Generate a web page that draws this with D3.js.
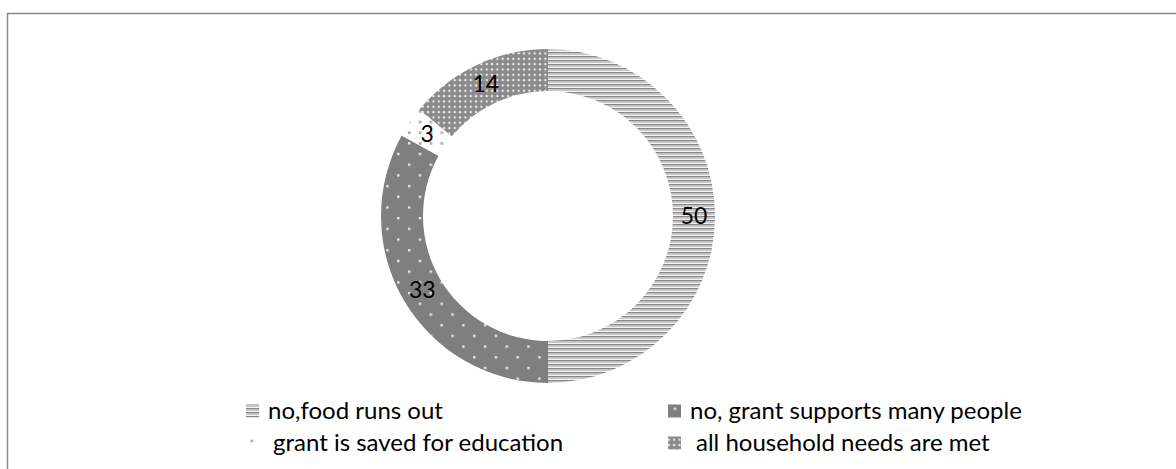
<!DOCTYPE html>
<html>
<head>
<meta charset="utf-8">
<script src="https://cdn.jsdelivr.net/npm/d3@7"></script>
<style>
  html, body { margin: 0; padding: 0; background: #fff; }
  svg { display: block; }
  text { font-family: Lato, "Open Sans", sans-serif; fill: #000; }
</style>
</head>
<body>
<svg id="chart" width="1176" height="469"></svg>
<script>
// Survey answers and their shares (%)
const categories = [
  "no,food runs out",
  "no, grant supports many people",
  "grant is saved for education",
  "all household needs are met"
];
const values = [50, 33, 3, 14];
const patternIds = ["pStripes", "pDarkDots", "pSparseDots", "pDenseDots"];

const W = 1176, H = 469;
const svg = d3.select("#chart");
const defs = svg.append("defs");

// Horizontal stripes
{
  const p = defs.append("pattern").attr("id", "pStripes")
    .attr("patternUnits", "userSpaceOnUse").attr("width", 4).attr("height", 4);
  p.append("rect").attr("width", 4).attr("height", 4).attr("fill", "#f4f4f4");
  p.append("rect").attr("y", 0).attr("width", 4).attr("height", 1.5).attr("fill", "#878787");
  p.append("rect").attr("y", 1.5).attr("width", 4).attr("height", 1.5).attr("fill", "#c8c8c8");
}
// Dark grey with sparse light dots
{
  const w = 21.7, h = 21.4;
  const p = defs.append("pattern").attr("id", "pDarkDots")
    .attr("patternUnits", "userSpaceOnUse").attr("width", w).attr("height", h);
  p.append("rect").attr("width", w).attr("height", h).attr("fill", "#7f7f7f");
  [[1, 1], [w / 2 + 1, h / 2 + 1]].forEach(([x, y]) =>
    p.append("rect").attr("x", x).attr("y", y).attr("width", 2.4).attr("height", 2.4).attr("fill", "#e8e8e8"));
}
// White with sparse grey dots
{
  const w = 21.7, h = 21.4;
  const p = defs.append("pattern").attr("id", "pSparseDots")
    .attr("patternUnits", "userSpaceOnUse").attr("width", w).attr("height", h);
  p.append("rect").attr("width", w).attr("height", h).attr("fill", "#ffffff");
  [[1, 1], [w / 2 + 1, h / 2 + 1], [w / 2 + 1, 1], [1, h / 2 + 1]].forEach(([x, y]) =>
    p.append("rect").attr("x", x).attr("y", y).attr("width", 2.6).attr("height", 2.6).attr("fill", "#a8a8a8"));
}
// Mid grey with dense light dots
{
  const s = 5.33;
  const p = defs.append("pattern").attr("id", "pDenseDots")
    .attr("patternUnits", "userSpaceOnUse").attr("width", s).attr("height", s);
  p.append("rect").attr("width", s).attr("height", s).attr("fill", "#8a8a8a");
  p.append("rect").attr("x", 1.6).attr("y", 1.6).attr("width", 2.1).attr("height", 2.1).attr("fill", "#ececec");
}

// Chart frame
svg.append("rect")
  .attr("x", 7.5).attr("y", 13.5)
  .attr("width", W + 20).attr("height", H + 20)
  .attr("fill", "none").attr("stroke", "#8a8a8a").attr("stroke-width", 1.5);

// Donut
const cx = 548, cy = 216, outerR = 167, innerR = 125;
const pie = d3.pie().sort(null).value(d => d.value);
const arc = d3.arc().innerRadius(innerR).outerRadius(outerR);
const labelArc = d3.arc().innerRadius((innerR + outerR) / 2).outerRadius((innerR + outerR) / 2);
const data = categories.map((c, i) => ({ name: c, value: values[i], pid: patternIds[i] }));
const arcs = pie(data);

const g = svg.append("g").attr("transform", `translate(${cx},${cy})`);
g.selectAll("path").data(arcs).join("path")
  .attr("d", arc)
  .attr("fill", d => `url(#${d.data.pid})`);

g.selectAll("text.lbl").data(arcs).join("text")
  .attr("class", "lbl")
  .attr("transform", d => `translate(${labelArc.centroid(d)})`)
  .attr("text-anchor", "middle")
  .attr("dy", "0.35em")
  .style("font-size", "23px")
  .text(d => d.data.value);

// Legend (two columns, two rows)
const legendPos = [
  { mx: 246, tx: 268, y: 411 },
  { mx: 668, tx: 690, y: 411 },
  { mx: 246, tx: 273, y: 443 },
  { mx: 668, tx: 696, y: 443 }
];
const lg = svg.append("g");
data.forEach((d, i) => {
  const p = legendPos[i];
  lg.append("rect")
    .attr("x", p.mx).attr("y", p.y - 6.5)
    .attr("width", 13).attr("height", 13)
    .attr("fill", `url(#${d.pid})`);
  lg.append("text")
    .attr("x", p.tx).attr("y", p.y)
    .attr("dy", "0.35em")
    .style("font-size", "24px")
    .text(d.name);
});
</script>
</body>
</html>
